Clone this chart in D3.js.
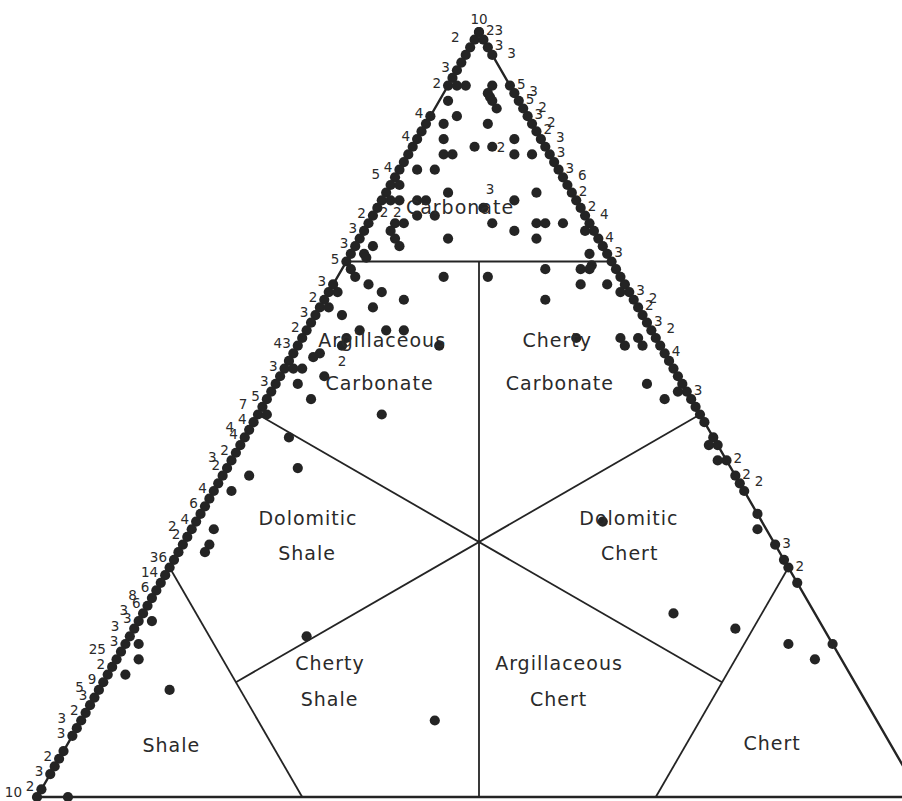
<!DOCTYPE html>
<html>
<head>
<meta charset="utf-8">
<script src="https://cdn.jsdelivr.net/npm/d3@7/dist/d3.min.js"></script>
<style>
  body { margin: 0; background: #fff; }
  svg { display: block; }
  text { font-family: 'DejaVu Sans', sans-serif; fill: #2a2a2a; }
</style>
</head>
<body>
<div id="app"></div>
<script>
// compositions in percent: carbonate (top), shale (bottom left), chert (bottom right)

// samples on the carbonate-shale side (chert = 0), by carbonate %
const leftEdge = [100, 99, 98, 97, 96, 95, 94, 93,
  89, 88, 87, 86, 85, 84, 83, 82, 81, 80, 79, 78, 77, 76, 75, 74, 73, 72, 71, 70,
  67, 66, 65, 64, 63, 62, 61, 60, 59, 58, 57, 56, 55, 54, 53, 52, 51, 50,
  49, 48, 47, 46, 45, 44, 43, 42, 41, 40, 39, 38, 37, 36, 35, 34, 33, 32, 31, 30,
  29, 28, 27, 26, 25, 24, 23, 22, 21, 20, 19, 18, 17, 16, 15, 14, 13, 12, 11, 10,
  9, 8, 6, 5, 4, 3, 1, 0]

// samples on the carbonate-chert side (shale = 0), by carbonate %
const rightEdge = [100, 99, 98, 97,
  93, 92, 91, 90, 89, 88, 87, 86, 85, 84, 83, 82, 81, 80, 79, 78, 77, 76, 75, 74, 73, 72, 71, 70,
  69, 68, 67, 66, 65, 64, 63, 62, 61, 60, 59, 58, 57, 56, 55, 54, 53, 52, 51, 50, 49,
  47, 46, 44, 42, 41, 40, 37, 33, 31, 30, 28, 20]

// samples inside the triangle: [carbonate %, chert %]
const inner = [
  [93, 1], [93, 2], [93, 5], [92, 5], [91.5, 5.5], [91, 6], [90, 7], [91, 1], [89, 3], [88, 2],
  [88, 7], [86, 3], [85, 7], [85, 9], [86, 11], [84, 12], [84, 14], [84, 4], [84, 5], [82, 2],
  [82, 4], [79, 7], [79, 17], [78, 15], [77, 12], [78, 4], [78, 5], [76, 5], [76, 7], [75, 14],
  [75, 19], [75, 20], [75, 22], [74, 17], [73, 10], [73, 20], [80, 1], [78, 1], [78, 2], [75, 4],
  [75, 3], [74, 3], [73, 4], [72, 5], [72, 2], [71, 1.5], [70.5, 2], [74, 25], [71, 27], [69.5, 28],
  [69, 1], [68, 2], [67, 4], [66, 6], [65, 9], [64, 6], [66, 1], [64, 1], [63, 3], [61, 6],
  [61, 9], [61, 11], [60, 5], [59, 5], [58, 3], [57.5, 2.5], [56, 2], [56, 1], [55, 5], [54, 2.5],
  [52, 5], [50, 14], [68, 12], [59, 16],
  [68, 17], [69, 23], [65, 25], [69, 27], [69, 28], [67, 28], [67, 31], [66, 33], [60, 31], [60, 36],
  [59, 37], [60, 38], [59, 39], [54, 42], [52, 45], [53, 46], [46, 53], [44, 55], [35, 64],
  [36, 46], [47, 5], [43, 8], [42, 3], [40, 2], [35, 2.5], [33, 3], [32, 3], [50, 1],
  [24, 60], [22, 68], [20, 75], [18, 79],
  [21, 20], [10, 40],
  [14, 8], [18, 2.5], [20, 1.5], [16, 2], [23, 1.5], [0, 3.5]
]

// number of samples at a point: [carbonate %, count]
const leftCounts = [
  [100, '10'], [99, '2'], [95, '3'], [93, '2'], [89, '4'], [86, '4'], [82, '4'], [81, '5'],
  [76, '2'], [74, '3'], [72, '3'], [70, '5'], [67, '3'], [65, '2'], [63, '3'], [61, '2'],
  [59, '43'], [56, '3'], [54, '3'], [52, '5'], [51, '7'], [49, '4'], [48, '4'], [47, '4'],
  [45, '2'], [44, '3'], [43, '2'], [40, '4'], [38, '6'], [36, '4'], [35, '2'], [34, '2'],
  [31, '36'], [29, '14'], [27, '6'], [26, '8'], [25, '6'], [24, '3'], [23, '3'], [22, '3'],
  [20, '3'], [19, '25'], [17, '2'], [15, '9'], [14, '5'], [13, '3'], [11, '2'], [10, '3'],
  [8, '3'], [5, '2'], [3, '3'], [1, '2'], [0, '10']
]
const rightCounts = [
  [100, '23'], [98, '3'], [97, '3'], [93, '5'], [92, '3'], [91, '5'], [90, '2'], [89, '3'],
  [88, '2'], [87, '2'], [86, '3'], [84, '3'], [82, '3'], [81, '6'], [79, '2'], [77, '2'],
  [76, '4'], [73, '4'], [71, '3'], [66, '3'], [65, '2'], [64, '2'], [62, '3'], [61, '2'],
  [58, '4'], [53, '3'], [44, '2'], [42, '2'], [41, '2'], [33, '3'], [30, '2']
]
// counts written inside: [carbonate %, chert %, count]
const innerCounts = [[85, 10, '2'], [76.5, 1, '2'], [76.5, 2.5, '2'], [57, 6, '2'], [79.5, 11.5, '3']]

// class boundaries: [[carbonate, chert], [carbonate, chert]]
const bounds = [
  [[70, 0], [70, 30]],
  [[30, 0], [0, 30]],
  [[30, 70], [0, 70]],
  [[70, 15], [0, 50]],
  [[50, 0], [15, 70]],
  [[50, 50], [15, 15]]
]

// class names: [text, carbonate %, chert %]
const classNames = [
  ['Carbonate', 77.1, 9.3],
  ['Argillaceous', 59.7, 9.2], ['Carbonate', 54.1, 11.7],
  ['Cherty', 59.7, 29.0], ['Carbonate', 54.1, 32.1],
  ['Dolomitic', 36.5, 12.4], ['Shale', 31.9, 14.6],
  ['Dolomitic', 36.5, 48.7], ['Chert', 31.9, 51.1],
  ['Cherty', 17.5, 24.4], ['Shale', 12.8, 26.7],
  ['Argillaceous', 17.5, 50.3], ['Chert', 12.8, 52.6],
  ['Shale', 6.8, 11.8],
  ['Chert', 7.1, 79.6]
]

;(function (d3) {
  'use strict'

  const width = 902
  const height = 801
  const ink = '#242424'

  const svg = d3.select('#app')
    .append('svg')
    .attr('width', width)
    .attr('height', height)

  svg.append('rect')
    .attr('width', width)
    .attr('height', height)
    .attr('fill', '#fff')

  // x runs along the base, y is the carbonate height
  const xScale = d3.scaleLinear().domain([0, 100]).range([37, 921])
  const yScale = d3.scaleLinear().domain([0, 100]).range([797, 32])
  const px = function (c, ch) { return xScale(ch + c / 2) }
  const py = function (c) { return yScale(c) }

  // push every other label of a crowded run a little further out
  const stagger = function (list) {
    let prevC = null
    let prevShift = false
    return list.map(function (d) {
      const shift = prevC !== null && prevC - d[0] < 1.5 && !prevShift
      prevC = d[0]
      prevShift = shift
      return { c: d[0], n: d[1], out: shift ? 8 : 0 }
    })
  }

  // outer triangle
  const corners = [[100, 0], [0, 0], [0, 100]]
  svg.append('path')
    .attr('d', d3.line()(corners.map(function (d) { return [px(d[0], d[1]), py(d[0])] })) + 'Z')
    .attr('fill', 'none')
    .attr('stroke', ink)
    .attr('stroke-width', 2.4)

  svg.selectAll('line.bound')
    .data(bounds)
    .enter()
    .append('line')
    .attr('class', 'bound')
    .attr('x1', function (d) { return px(d[0][0], d[0][1]) })
    .attr('y1', function (d) { return py(d[0][0]) })
    .attr('x2', function (d) { return px(d[1][0], d[1][1]) })
    .attr('y2', function (d) { return py(d[1][0]) })
    .attr('stroke', ink)
    .attr('stroke-width', 1.8)

  const points = leftEdge.map(function (c) { return [c, 0] })
    .concat(rightEdge.map(function (c) { return [c, 100 - c] }))
    .concat(inner)

  svg.selectAll('circle')
    .data(points)
    .enter()
    .append('circle')
    .attr('cx', function (d) { return px(d[0], d[1]) })
    .attr('cy', function (d) { return py(d[0]) })
    .attr('r', 5.1)
    .attr('fill', ink)

  const counts = svg.append('g')
    .style('font-family', "'Liberation Sans', sans-serif")
    .style('font-size', '13.5px')

  counts.selectAll('text.left')
    .data(stagger(leftCounts))
    .enter()
    .append('text')
    .attr('class', 'left')
    .attr('x', function (d) { return d.c === 100 ? px(100, 0) : px(d.c, 0) - 7 - d.out })
    .attr('y', function (d) {
      if (d.c === 100) return py(100) - 8
      if (d.c === 0) return py(0)
      return py(d.c) + 2
    })
    .attr('text-anchor', function (d) { return d.c === 100 ? 'middle' : 'end' })
    .text(function (d) { return d.n })

  counts.selectAll('text.right')
    .data(stagger(rightCounts))
    .enter()
    .append('text')
    .attr('class', 'right')
    .attr('x', function (d) { return px(d.c, 100 - d.c) + 7 + d.out })
    .attr('y', function (d) { return py(d.c) + 3 })
    .attr('text-anchor', 'start')
    .text(function (d) { return d.n })

  counts.selectAll('text.inner')
    .data(innerCounts)
    .enter()
    .append('text')
    .attr('class', 'inner')
    .attr('x', function (d) { return px(d[0], d[1]) })
    .attr('y', function (d) { return py(d[0]) })
    .attr('text-anchor', 'middle')
    .attr('dominant-baseline', 'central')
    .text(function (d) { return d[2] })

  svg.append('g')
    .selectAll('text')
    .data(classNames)
    .enter()
    .append('text')
    .attr('x', function (d) { return px(d[1], d[2]) })
    .attr('y', function (d) { return py(d[1]) })
    .attr('text-anchor', 'middle')
    .attr('dominant-baseline', 'central')
    .style('font-size', '19px')
    .style('letter-spacing', '1px')
    .text(function (d) { return d[0] })

})(d3)
</script>
</body>
</html>
